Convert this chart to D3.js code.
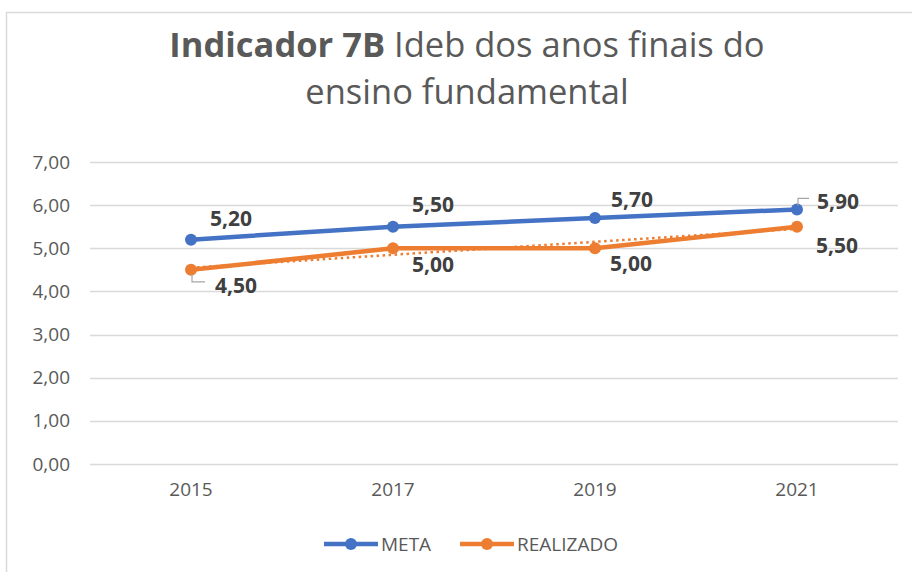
<!DOCTYPE html>
<html>
<head>
<meta charset="utf-8">
<script src="https://cdn.jsdelivr.net/npm/d3@7"></script>
<style>
  body { margin: 0; background: #fff; }
  svg { display: block; }
  text { font-family: "Open Sans", sans-serif; }
</style>
</head>
<body>
<svg id="chart" width="912" height="572"></svg>
<script>
// data
var years = ['2015', '2017', '2019', '2021'];
var meta = [5.20, 5.50, 5.70, 5.90];
var realizado = [4.50, 5.00, 5.00, 5.50];
var yTicks = [0, 1, 2, 3, 4, 5, 6, 7];

var svg = d3.select('#chart');
var blue = '#4472C4', orange = '#ED7D31', grey = '#595959', labCol = '#404040';
var fmt = function (v) { return d3.format('.2f')(v).replace('.', ','); };

// chart box
svg.append('rect')
  .attr('x', 6.5).attr('y', 12.5).attr('width', 940).attr('height', 600)
  .attr('fill', 'none').attr('stroke', '#d9d9d9').attr('stroke-width', 1.5);

// title
var title = svg.append('text')
  .attr('x', 467).attr('y', 57)
  .attr('text-anchor', 'middle')
  .attr('fill', grey)
  .style('font-size', '34.5px');
title.append('tspan').attr('font-weight', 'bold').text('Indicador 7B');
title.append('tspan').text(' Ideb dos anos finais do');
svg.append('text')
  .attr('x', 467).attr('y', 104)
  .attr('text-anchor', 'middle')
  .attr('fill', grey)
  .style('font-size', '34.5px')
  .text('ensino fundamental');

var x = d3.scaleBand().domain(years).range([90, 898]);
var y = d3.scaleLinear().domain([0, 7]).range([464, 162]);

// grid
svg.append('g').selectAll('line')
  .data(yTicks).enter().append('line')
  .attr('x1', 90).attr('x2', 898)
  .attr('y1', function (d) { return Math.round(y(d)) + 0.5; })
  .attr('y2', function (d) { return Math.round(y(d)) + 0.5; })
  .attr('stroke', '#d9d9d9').attr('stroke-width', 1.5);

// y axis
var yAxis = svg.append('g').attr('transform', 'translate(70,0)')
  .call(d3.axisLeft(y).tickValues(yTicks).tickFormat(fmt).tickSize(0).tickPadding(0));
yAxis.select('.domain').remove();
yAxis.selectAll('text').attr('fill', grey).style('font-size', '19px')
  .style('font-family', '"Open Sans", sans-serif');

// x axis
var xAxis = svg.append('g').attr('transform', 'translate(0,479)')
  .call(d3.axisBottom(x).tickSize(0).tickPadding(0));
xAxis.select('.domain').remove();
xAxis.selectAll('text').attr('fill', grey).style('font-size', '19px')
  .style('font-family', '"Open Sans", sans-serif')
  .attr('dy', '0.9em');

var cx = function (d, i) { return x(years[i]) + x.bandwidth() / 2; };

// linear trend for REALIZADO
var n = realizado.length;
var mx = d3.mean(d3.range(n)), my = d3.mean(realizado);
var slope = d3.sum(d3.range(n), function (i) { return (i - mx) * (realizado[i] - my); }) /
            d3.sum(d3.range(n), function (i) { return (i - mx) * (i - mx); });
var trend = d3.range(n).map(function (i) { return my + slope * (i - mx); });

var line = d3.line().x(cx).y(function (d) { return y(d); });

svg.append('path').datum(trend)
  .attr('d', line).attr('fill', 'none')
  .attr('stroke', orange).attr('stroke-width', 2.5)
  .attr('stroke-dasharray', '2.5,3.5');

function series(data, color) {
  svg.append('path').datum(data)
    .attr('d', line).attr('fill', 'none')
    .attr('stroke', color).attr('stroke-width', 4.5)
    .attr('stroke-linejoin', 'round');
  svg.append('g').selectAll('circle')
    .data(data).enter().append('circle')
    .attr('cx', cx).attr('cy', function (d) { return y(d); })
    .attr('r', 6).attr('fill', color);
}
series(meta, blue);
series(realizado, orange);

// data labels (offsets from the point)
var metaOff = [[40, -21], [40, -22], [37, -19], [41, -8]];
var realOff = [[45, 16], [40, 16], [36, 15], [40, 19]];

function labels(data, off) {
  svg.append('g').selectAll('text')
    .data(data).enter().append('text')
    .attr('x', function (d, i) { return cx(d, i) + off[i][0]; })
    .attr('y', function (d, i) { return y(d) + off[i][1]; })
    .attr('text-anchor', 'middle').attr('dy', '0.36em')
    .attr('fill', labCol).attr('font-weight', 'bold')
    .style('font-size', '21px')
    .text(fmt);
}
labels(meta, metaOff);
labels(realizado, realOff);

// leader lines
var l1x = cx(realizado[0], 0), l1y = y(realizado[0]);
svg.append('path')
  .attr('d', 'M' + (l1x + 1) + ',' + (l1y + 4) + 'V' + (l1y + 12) + 'H' + (l1x + 14))
  .attr('fill', 'none').attr('stroke', '#a6a6a6').attr('stroke-width', 1.2);
var l2x = cx(meta[3], 3), l2y = y(meta[3]);
svg.append('path')
  .attr('d', 'M' + (l2x + 1) + ',' + (l2y - 4) + 'V' + (l2y - 11) + 'H' + (l2x + 12))
  .attr('fill', 'none').attr('stroke', '#a6a6a6').attr('stroke-width', 1.2);

// legend
var legend = [['META', blue, 324], ['REALIZADO', orange, 460]];
var lg = svg.append('g').selectAll('g').data(legend).enter().append('g')
  .attr('transform', function (d) { return 'translate(' + d[2] + ',544)'; });
lg.append('line').attr('x1', 0).attr('x2', 54)
  .attr('stroke', function (d) { return d[1]; }).attr('stroke-width', 4.5);
lg.append('circle').attr('cx', 27).attr('r', 6)
  .attr('fill', function (d) { return d[1]; });
lg.append('text').attr('x', 57).attr('dy', '0.36em')
  .attr('fill', grey).style('font-size', '19px')
  .text(function (d) { return d[0]; });
</script>
</body>
</html>
